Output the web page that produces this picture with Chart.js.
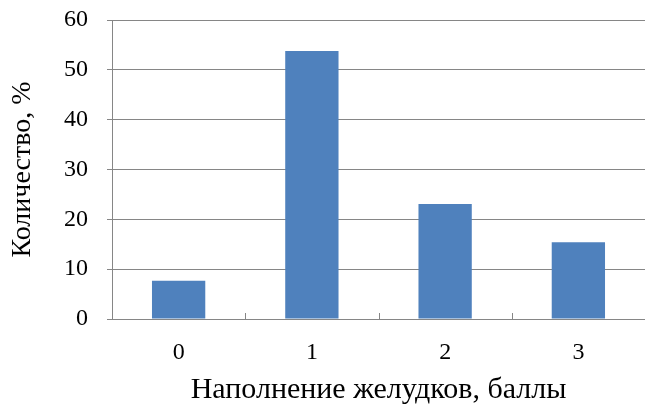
<!DOCTYPE html>
<html>
<head>
<meta charset="utf-8">
<script src="https://cdn.jsdelivr.net/npm/chart.js@4"></script>
<style>
  html, body { margin: 0; padding: 0; background: #fff; }
  #wrap { width: 645px; height: 408px; }
</style>
</head>
<body>
<div id="wrap"><canvas id="barChart" width="645" height="408"></canvas></div>
<script>
// data
const categories = ['0', '1', '2', '3'];
const percentValues = [7.7, 53.8, 23.1, 15.4];
const yTicks = [0, 10, 20, 30, 40, 50, 60];

const serif = 'Liberation Serif, Times New Roman, serif';

// short tick marks pointing up from the x axis, between categories
const innerTicks = {
    id: 'innerTicks',
    afterDraw(chart) {
        const x = chart.scales.x;
        const ctx = chart.ctx;
        const n = categories.length;
        const step = x.width / n;
        ctx.save();
        ctx.strokeStyle = '#868686';
        ctx.lineWidth = 1;
        for (let i = 1; i < n; i++) {
            const px = Math.round(x.left + i * step) + 0.5;
            ctx.beginPath();
            ctx.moveTo(px, x.top);
            ctx.lineTo(px, x.top - 6);
            ctx.stroke();
        }
        ctx.restore();
    }
};

let ctxB = document.getElementById('barChart').getContext('2d');
new Chart(ctxB, {
    type: 'bar',
    data: {
        labels: categories,
        datasets: [{
            label: 'Количество, %',
            data: percentValues,
            backgroundColor: '#4F81BD',
            borderWidth: 0,
            categoryPercentage: 1,
            barPercentage: 0.4
        }]
    },
    options: {
        responsive: false,
        animation: false,
        layout: { padding: { top: 20, right: 0, left: 0, bottom: 0 } },
        plugins: {
            legend: { display: false },
            tooltip: { enabled: false }
        },
        scales: {
            x: {
                afterFit(scale) {
                    scale.height = 89;
                    scale.paddingLeft = 0;
                    scale.paddingRight = 0;
                },
                grid: { display: false, drawTicks: false },
                border: { color: '#868686', width: 1 },
                ticks: { color: '#000', font: { family: serif, size: 24, weight: 'normal' }, padding: 19 },
                title: {
                    display: true,
                    text: 'Наполнение желудков, баллы',
                    color: '#000',
                    font: { family: serif, size: 30, weight: 'normal' },
                    padding: { top: 0, bottom: 0 }
                }
            },
            y: {
                min: 0,
                max: 60,
                afterBuildTicks(scale) {
                    scale.ticks = yTicks.map(v => ({ value: v }));
                },
                afterFit(scale) {
                    scale.width = 112;
                    scale.paddingTop = 0;
                    scale.paddingBottom = 0;
                },
                grid: { color: '#868686', tickLength: 5 },
                border: { color: '#868686', width: 1 },
                ticks: { color: '#000', font: { family: serif, size: 24, weight: 'normal' }, padding: 19 },
                title: {
                    display: true,
                    text: 'Количество, %',
                    color: '#000',
                    font: { family: serif, size: 28, weight: 'normal' },
                    padding: { top: 6, bottom: 0 }
                }
            }
        }
    },
    plugins: [innerTicks]
});
</script>
</body>
</html>
